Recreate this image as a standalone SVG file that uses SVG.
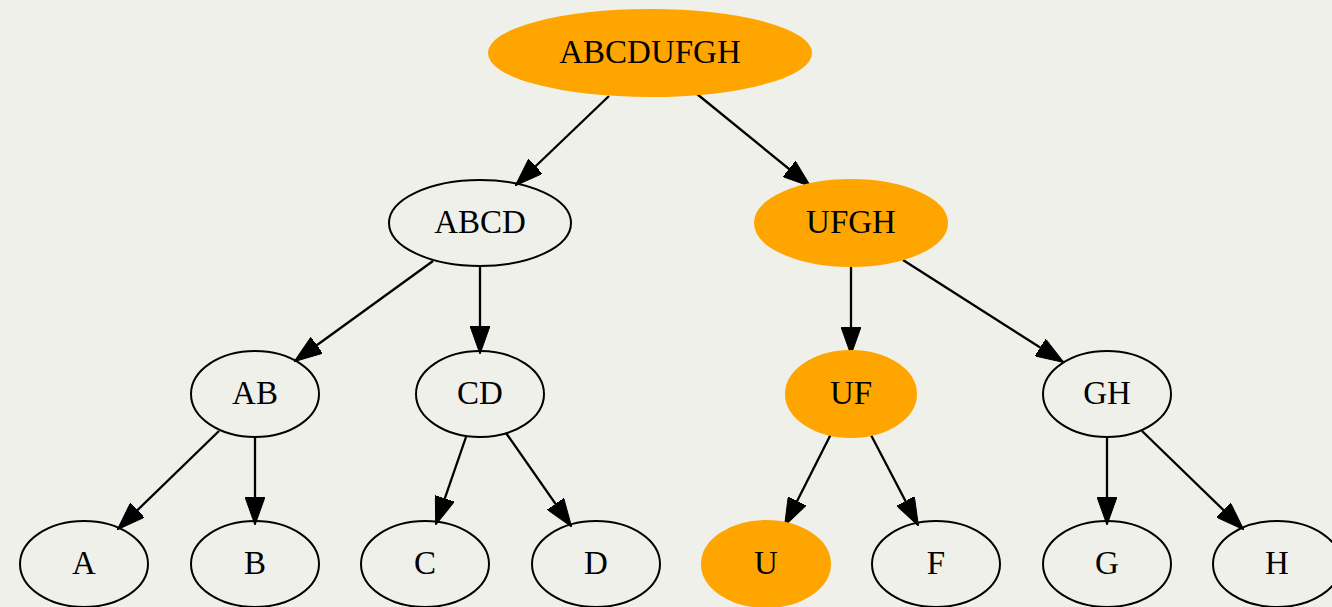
<svg xmlns="http://www.w3.org/2000/svg" width="1332" height="607" viewBox="0 0 1332 607">
<style>
.n ellipse{fill:none;stroke:#000;stroke-width:2}
.n.o ellipse{fill:#ffa500;stroke:#ffa500}
.n text{font-family:"Liberation Serif","Times New Roman",serif;font-size:33px;text-anchor:middle;fill:#000}
#edges line{stroke:#000;stroke-width:2.3;marker-end:url(#ah)}
</style>
<defs>
<marker id="ah" viewBox="0 0 28 20" refX="27" refY="10" markerWidth="28" markerHeight="20" markerUnits="userSpaceOnUse" orient="auto">
<path d="M0,0 L28,10 L0,20 Z" fill="#000" stroke="#000" stroke-width="1"/>
</marker>
</defs>
<rect width="1332" height="607" fill="#f0f0eb"/>
<g id="edges">
<line x1="609" y1="96" x2="516" y2="185"/>
<line x1="697" y1="94" x2="810" y2="186"/>
<line x1="433" y1="261" x2="295" y2="361"/>
<line x1="480" y1="266" x2="480" y2="353"/>
<line x1="851" y1="267" x2="851" y2="354"/>
<line x1="903" y1="260" x2="1063" y2="362"/>
<line x1="219" y1="431" x2="118" y2="529"/>
<line x1="255" y1="437" x2="255" y2="524"/>
<line x1="466" y1="437" x2="436" y2="524"/>
<line x1="506" y1="433" x2="571" y2="526"/>
<line x1="831" y1="434" x2="785" y2="525"/>
<line x1="871" y1="435" x2="918" y2="525"/>
<line x1="1107" y1="437" x2="1107" y2="524"/>
<line x1="1142" y1="431" x2="1243" y2="529"/>
</g>
<g id="ABCDUFGH" class="n o"><ellipse cx="650" cy="53" rx="161" ry="43"/><text x="650" y="62.5">ABCDUFGH</text></g>
<g id="ABCD" class="n"><ellipse cx="480" cy="223" rx="91" ry="43"/><text x="480" y="232.5">ABCD</text></g>
<g id="UFGH" class="n o"><ellipse cx="851" cy="223" rx="96" ry="43"/><text x="851" y="232.5">UFGH</text></g>
<g id="AB" class="n"><ellipse cx="255" cy="394" rx="64" ry="43"/><text x="255" y="403.5">AB</text></g>
<g id="CD" class="n"><ellipse cx="480" cy="394" rx="64" ry="43"/><text x="480" y="403.5">CD</text></g>
<g id="UF" class="n o"><ellipse cx="851" cy="394" rx="65" ry="43"/><text x="851" y="403.5">UF</text></g>
<g id="GH" class="n"><ellipse cx="1107" cy="394" rx="64" ry="43"/><text x="1107" y="403.5">GH</text></g>
<g id="A" class="n"><ellipse cx="84" cy="564" rx="64" ry="43"/><text x="84" y="573.5">A</text></g>
<g id="B" class="n"><ellipse cx="255" cy="564" rx="64" ry="43"/><text x="255" y="573.5">B</text></g>
<g id="C" class="n"><ellipse cx="425" cy="564" rx="64" ry="43"/><text x="425" y="573.5">C</text></g>
<g id="D" class="n"><ellipse cx="596" cy="564" rx="64" ry="43"/><text x="596" y="573.5">D</text></g>
<g id="U" class="n o"><ellipse cx="766" cy="564" rx="64" ry="43"/><text x="766" y="573.5">U</text></g>
<g id="F" class="n"><ellipse cx="936" cy="564" rx="64" ry="43"/><text x="936" y="573.5">F</text></g>
<g id="G" class="n"><ellipse cx="1107" cy="564" rx="64" ry="43"/><text x="1107" y="573.5">G</text></g>
<g id="H" class="n"><ellipse cx="1277" cy="564" rx="64" ry="43"/><text x="1277" y="573.5">H</text></g>
</svg>
